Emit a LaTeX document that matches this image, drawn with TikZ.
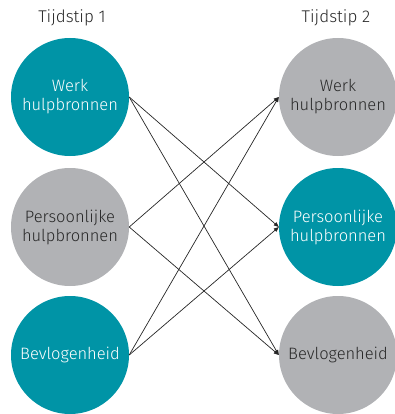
\documentclass[tikz,border=0pt]{standalone}
\usepackage{fontspec}
\setmainfont{Fira Sans Light}
\usetikzlibrary{arrows.meta}
\definecolor{teal1}{RGB}{0,148,166}
\definecolor{grey1}{RGB}{177,178,181}
\definecolor{txtdark}{RGB}{40,40,40}
\begin{document}
\begin{tikzpicture}[x=1pt,y=-1pt,
  circ/.style={circle,minimum size=118pt,inner sep=0pt,align=center,font=\fontsize{16.5}{19}\selectfont},
  tealc/.style={circ,fill=teal1,text=white},
  greyc/.style={circ,fill=grey1,text=txtdark},
  lbl/.style={font=\fontsize{17}{20}\selectfont,text=txtdark},
  arr/.style={-{Triangle[length=5pt,width=4pt]},line width=0.7pt,black!85}]
\useasboundingbox (0,0) rectangle (395,414);
\node[lbl] (t1) at (72,18) {Tijdstip 1};
\node[lbl] (t2) at (336,18) {Tijdstip 2};
\node[tealc] (l1) at (70,97) {Werk\\hulpbronnen};
\node[greyc] (l2) at (70,227) {Persoonlijke\\hulpbronnen};
\node[tealc] (l3) at (70,355) {Bevlogenheid};
\node[greyc] (r1) at (338,97) {Werk\\hulpbronnen};
\node[tealc] (r2) at (338,227) {Persoonlijke\\hulpbronnen};
\node[greyc] (r3) at (338,355) {Bevlogenheid};
\draw[arr] (l1.east) -- (r2.west);
\draw[arr] (l1.east) -- (r3.west);
\draw[arr] (l2.east) -- (r1.west);
\draw[arr] (l2.east) -- (r3.west);
\draw[arr] (l3.east) -- (r1.west);
\draw[arr] (l3.east) -- (r2.west);
\end{tikzpicture}
\end{document}
